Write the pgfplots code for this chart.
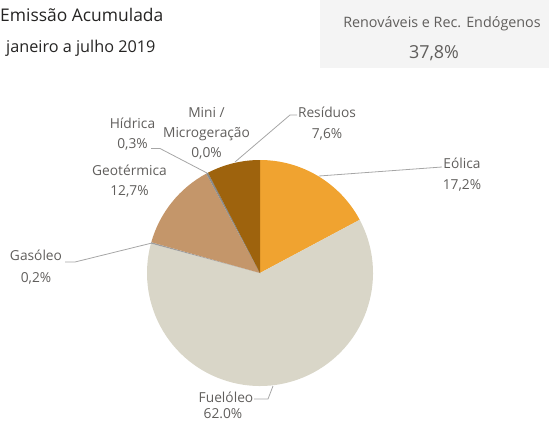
\documentclass[border=0pt]{standalone}
\usepackage{fontspec}
\setmainfont{Open Sans}
\usepackage{pgfplots}
\usepackage{pgfplotstable}
\pgfplotsset{compat=1.18}
\definecolor{c0}{HTML}{F0A330}
\definecolor{c1}{HTML}{D9D6C8}
\definecolor{c2}{HTML}{9E9E9E}
\definecolor{c3}{HTML}{C4966A}
\definecolor{c4}{HTML}{8C8C8C}
\definecolor{c5}{HTML}{5A5A5A}
\definecolor{c6}{HTML}{9E630D}
\definecolor{lbl}{HTML}{605E5C}
\definecolor{ttl}{HTML}{252423}
\definecolor{boxbg}{HTML}{F4F4F4}
\definecolor{leader}{HTML}{A6A6A6}

% share of each source, clockwise from 12 o'clock
\pgfplotstableread{
idx value
0 17.2
1 62.0
2 0.2
3 12.7
4 0.3
5 0.0
6 7.6
}\piedata

\begin{document}
\begin{tikzpicture}
\begin{axis}[width=549bp, height=424bp, scale only axis,
  xmin=0, xmax=549, ymin=0, ymax=424, y dir=reverse,
  hide axis, clip=false]
\path (axis cs:0,0) rectangle (axis cs:549,424);
\fill[boxbg] (axis cs:320,0) rectangle (axis cs:549,68);
\def\cum{90}
\pgfplotsforeachungrouped \i in {0,...,6}{%
  \pgfplotstablegetelem{\i}{value}\of\piedata
  \pgfmathsetmacro\endang{\cum-3.6*\pgfplotsretval}%
  \edef\temp{\noexpand\fill[c\i] (axis cs:260,273) -- ++(\cum:113bp) arc[start angle=\cum, end angle=\endang, radius=113bp] -- cycle;}%
  \temp
  \global\let\cum\endang
}
% leader lines
\draw[leader, line width=0.8bp] (axis cs:319,176) -- (axis cs:442,167);
\draw[leader, line width=0.8bp] (axis cs:235,162) -- (axis cs:290,115) -- (axis cs:297,115);
\draw[leader, line width=0.8bp] (axis cs:207,173) -- (axis cs:160,148.5) -- (axis cs:151,148.5);
\draw[leader, line width=0.8bp] (axis cs:152,243) -- (axis cs:75,262) -- (axis cs:65,262);
\draw[leader, line width=0.8bp] (axis cs:273,386) -- (axis cs:268,399) -- (axis cs:254,399);
% labels
\tikzset{lab/.style={anchor=base, inner sep=0pt, text=lbl, font=\fontsize{13.8}{16}\selectfont}}
\node[lab] at (axis cs:327,117) {Resíduos};
\node[lab] at (axis cs:327,138) {7,6\%};
\node[lab] at (axis cs:206.5,117) {Mini /};
\node[lab] at (axis cs:206.5,137.5) {Microgeração};
\node[lab] at (axis cs:206.5,157) {0,0\%};
\node[lab] at (axis cs:132.5,128.5) {Hídrica};
\node[lab] at (axis cs:132.5,148.5) {0,3\%};
\node[lab] at (axis cs:129.5,175) {Geotérmica};
\node[lab] at (axis cs:129.5,195) {12,7\%};
\node[lab] at (axis cs:462,168) {Eólica};
\node[lab] at (axis cs:462,189) {17,2\%};
\node[lab] at (axis cs:36,260) {Gasóleo};
\node[lab] at (axis cs:36,282) {0,2\%};
\node[lab] at (axis cs:226,402) {Fuelóleo};
\node[lab] at (axis cs:223,418) {62.0\%};
% titles
\node[anchor=base west, inner sep=0pt, text=ttl, font=\fontsize{17.5}{20}\selectfont] at (axis cs:0,22) {Emissão Acumulada};
\node[anchor=base west, inner sep=0pt, text=ttl, font=\fontsize{16.3}{18}\selectfont] at (axis cs:6,53) {janeiro a julho 2019};
\node[anchor=base, inner sep=0pt, text=lbl, font=\fontsize{14.4}{16}\selectfont] at (axis cs:442,28) {Renováveis e Rec. Endógenos};
\node[anchor=base, inner sep=0pt, text=lbl, font=\fontsize{18}{20}\selectfont] at (axis cs:434,59) {37,8\%};
\end{axis}
\end{tikzpicture}
\end{document}
